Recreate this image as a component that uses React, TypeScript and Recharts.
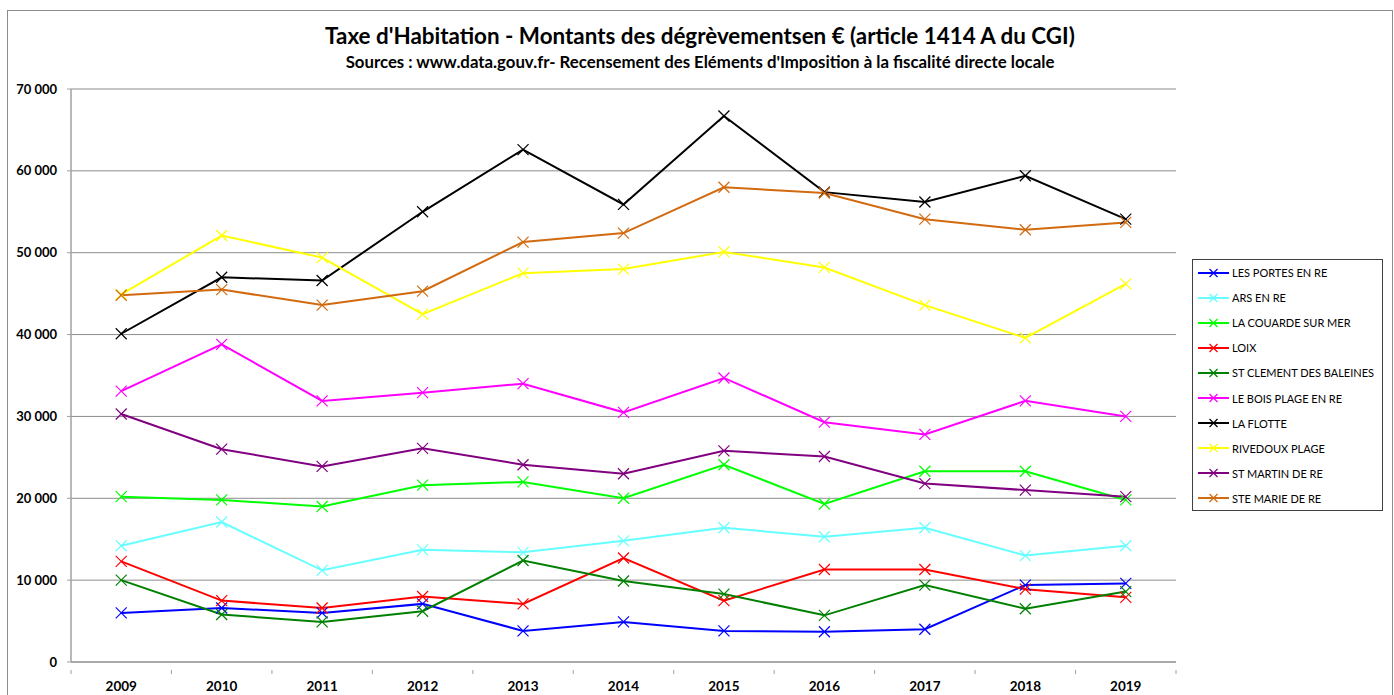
import { CartesianGrid, Line, LineChart, XAxis, YAxis } from "recharts";

const YEARS = ["2009", "2010", "2011", "2012", "2013", "2014", "2015", "2016", "2017", "2018", "2019"];

const LES_PORTES = [6000, 6600, 6000, 7100, 3800, 4900, 3800, 3700, 4000, 9400, 9600];
const ARS = [14200, 17100, 11200, 13700, 13400, 14800, 16400, 15300, 16400, 13000, 14200];
const LA_COUARDE = [20200, 19800, 19000, 21600, 22000, 20000, 24100, 19300, 23300, 23300, 19800];
const LOIX = [12300, 7500, 6600, 8000, 7100, 12700, 7500, 11300, 11300, 8900, 7900];
const ST_CLEMENT = [10000, 5800, 4900, 6200, 12400, 9900, 8300, 5700, 9400, 6500, 8600];
const LE_BOIS = [33100, 38800, 31900, 32900, 34000, 30500, 34700, 29300, 27800, 31900, 30000];
const LA_FLOTTE = [40100, 47000, 46600, 55000, 62600, 55900, 66700, 57400, 56200, 59400, 54100];
const RIVEDOUX = [44900, 52100, 49400, 42500, 47500, 48000, 50100, 48200, 43600, 39600, 46200];
const ST_MARTIN = [30300, 26000, 23900, 26100, 24100, 23000, 25800, 25100, 21800, 21000, 20200];
const STE_MARIE = [44800, 45500, 43600, 45300, 51300, 52400, 58000, 57300, 54100, 52800, 53700];

const Y_TICKS = [0, 10000, 20000, 30000, 40000, 50000, 60000, 70000];

const SERIES = [
  { key: "portes", label: "LES PORTES EN RE", color: "#0000ff", values: LES_PORTES },
  { key: "ars", label: "ARS EN RE", color: "#66ffff", values: ARS },
  { key: "couarde", label: "LA COUARDE SUR MER", color: "#00ff00", values: LA_COUARDE },
  { key: "loix", label: "LOIX", color: "#ff0000", values: LOIX },
  { key: "clement", label: "ST CLEMENT DES BALEINES", color: "#008000", values: ST_CLEMENT },
  { key: "bois", label: "LE BOIS PLAGE EN RE", color: "#ff00ff", values: LE_BOIS },
  { key: "flotte", label: "LA FLOTTE", color: "#000000", values: LA_FLOTTE },
  { key: "rivedoux", label: "RIVEDOUX PLAGE", color: "#ffff00", values: RIVEDOUX },
  { key: "martin", label: "ST MARTIN DE RE", color: "#800080", values: ST_MARTIN },
  { key: "marie", label: "STE MARIE DE RE", color: "#d26a10", values: STE_MARIE },
];

const rows = YEARS.map((year, i) => {
  const row: Record<string, string | number> = { year };
  SERIES.forEach((s) => {
    row[s.key] = s.values[i];
  });
  return row;
});

const FONT = "Lato, 'Open Sans', sans-serif";
const CHART_W = 1384;
const CHART_H = 688;
const MARGIN = { top: 78, right: 216, left: 0, bottom: 0 };
const Y_AXIS_W = 63;
const PLOT_W = CHART_W - MARGIN.right - Y_AXIS_W;
const HALF_BAND = PLOT_W / YEARS.length / 2;

const fmt = (v: number) => String(v).replace(/\B(?=(\d{3})+(?!\d))/g, " ");

function Cross({ cx, cy, color }: { cx?: number; cy?: number; color: string }) {
  if (cx == null || cy == null) return null;
  const r = 5.5;
  return (
    <g>
      <line x1={cx - r} y1={cy - r} x2={cx + r} y2={cy + r} stroke={color} strokeWidth={1.2} />
      <line x1={cx - r} y1={cy + r} x2={cx + r} y2={cy - r} stroke={color} strokeWidth={1.2} />
    </g>
  );
}

function YearTick(props: any) {
  const { x, y, payload, index } = props;
  const last = index === YEARS.length - 1;
  return (
    <g>
      <line x1={x - HALF_BAND} y1={y} x2={x - HALF_BAND} y2={y + 4} stroke="#a0a0a0" />
      {last && <line x1={x + HALF_BAND} y1={y} x2={x + HALF_BAND} y2={y + 4} stroke="#a0a0a0" />}
      <text x={x} y={y + 21} textAnchor="middle" fontFamily={FONT} fontSize={13.5} fontWeight={700} fill="#000">
        {payload.value}
      </text>
    </g>
  );
}

export default function App() {
  return (
    <div
      style={{
        position: "absolute",
        left: 7,
        top: 10,
        width: 1386,
        height: 690,
        boxSizing: "border-box",
        border: "1px solid #8c8c8c",
        background: "#fff",
        fontFamily: FONT,
      }}
    >
      <div style={{ position: "absolute", left: 0, width: "100%", top: 11, textAlign: "center", fontSize: 22.4, fontWeight: 700, color: "#000", whiteSpace: "nowrap" }}>
        Taxe d'Habitation - Montants des dégrèvementsen € (article 1414 A du CGI)
      </div>
      <div style={{ position: "absolute", left: 0, width: "100%", top: 40, textAlign: "center", fontSize: 16.8, fontWeight: 700, color: "#000", whiteSpace: "nowrap" }}>
        Sources : www.data.gouv.fr- Recensement des Eléments d'Imposition à la fiscalité directe locale
      </div>

      <LineChart width={CHART_W} height={CHART_H} data={rows} margin={MARGIN}>
        <CartesianGrid horizontal vertical={false} stroke="#8c8c8c" strokeWidth={1} />
        <XAxis
          dataKey="year"
          height={37}
          padding={{ left: HALF_BAND, right: HALF_BAND }}
          axisLine={{ stroke: "#a0a0a0", strokeWidth: 1.5 }}
          tickLine={false}
          tick={<YearTick />}
          interval={0}
        />
        <YAxis
          width={Y_AXIS_W}
          domain={[0, 70000]}
          ticks={Y_TICKS}
          tickFormatter={fmt}
          tickSize={4}
          tickMargin={10}
          axisLine={{ stroke: "#a0a0a0", strokeWidth: 1.5 }}
          tickLine={{ stroke: "#a0a0a0" }}
          tick={{ fontFamily: FONT, fontSize: 13, fontWeight: 700, fill: "#000" }}
        />
        {SERIES.map((s) => (
          <Line
            key={s.key}
            dataKey={s.key}
            stroke={s.color}
            strokeWidth={2}
            type="linear"
            isAnimationActive={false}
            dot={(p: any) => <Cross key={`${s.key}-${p.index}`} cx={p.cx} cy={p.cy} color={s.color} />}
            activeDot={false}
          />
        ))}
      </LineChart>

      <div
        style={{
          position: "absolute",
          left: 1192 - 8,
          top: 259 - 11,
          width: 191,
          height: 252,
          boxSizing: "border-box",
          border: "1px solid #404040",
        }}
      >
        {SERIES.map((s) => (
          <div key={s.key} style={{ display: "flex", alignItems: "center", height: 25.1, paddingLeft: 5 }}>
            <svg width={31} height={12} style={{ flex: "none" }}>
              <line x1={0} y1={6} x2={31} y2={6} stroke={s.color} strokeWidth={2} />
              <line x1={11.5} y1={2} x2={19.5} y2={10} stroke={s.color} strokeWidth={1.2} />
              <line x1={11.5} y1={10} x2={19.5} y2={2} stroke={s.color} strokeWidth={1.2} />
            </svg>
            <span style={{ marginLeft: 3, fontSize: 11, color: "#000", whiteSpace: "nowrap" }}>{s.label}</span>
          </div>
        ))}
      </div>
    </div>
  );
}
